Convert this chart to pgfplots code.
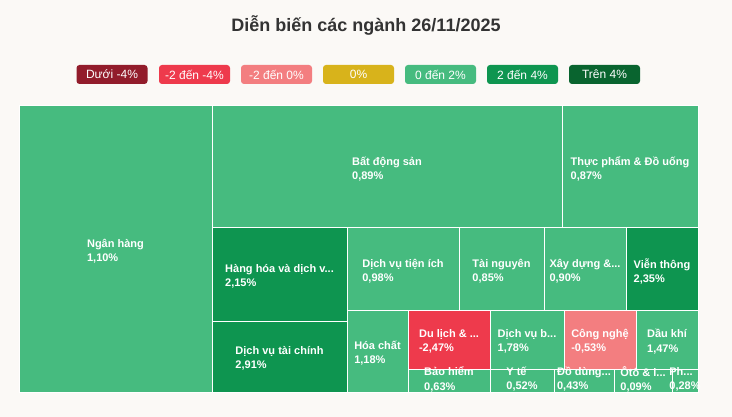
\documentclass[border=0pt]{standalone}
\usepackage{pgfplots}
\pgfplotsset{compat=1.18}
\usetikzlibrary{calc}
\usepackage{fontspec}
\setmainfont{Liberation Sans}
\definecolor{bg}{HTML}{FBF9F6}
\definecolor{cA}{HTML}{921C2B}
\definecolor{cB}{HTML}{EE3A4C}
\definecolor{cC}{HTML}{F37E80}
\definecolor{cD}{HTML}{D8B31B}
\definecolor{cE}{HTML}{46BB7F}
\definecolor{cF}{HTML}{0E9550}
\definecolor{cG}{HTML}{09642F}
\definecolor{ttl}{HTML}{333333}
\newcommand{\tile}[8][-1.6pt]{%
  \addplot[draw=white, line width=0.75pt, fill=#6] coordinates {(#2,#3) (#4,#3) (#4,#5) (#2,#5) (#2,#3)};
  \node[align=left, text=white, inner sep=0pt, yshift=#1, font=\bfseries\fontsize{8.25}{10.6}\selectfont]
    at ($(axis cs:#2,#3)!0.5!(axis cs:#4,#5)$) {#7\\#8};
}
\newcommand{\legbox}[3]{%
  \node[fill=#2, rounded corners=2.25pt, minimum width=53.25pt, minimum height=14.25pt, inner sep=0pt,
    text=white, font=\fontsize{9}{10}\selectfont] at (axis cs:#1,74.5) {#3};
}
\begin{document}
\begin{tikzpicture}
\begin{axis}[scale only axis, width=549pt, height=312.75pt,
  xmin=0, xmax=732, ymin=0, ymax=417, y dir=reverse, hide axis, clip=false]
\addplot[fill=bg, draw=none] coordinates {(0,0) (732,0) (732,417) (0,417) (0,0)};
\tile{19}{106}{212}{392}{cE}{Ngân hàng}{1,10\%}
\tile{212}{106}{562}{228}{cE}{Bất động sản}{0,89\%}
\tile{562}{106}{698}{228}{cE}{Thực phẩm \& Đồ uống}{0,87\%}
\tile{212}{228}{347}{321}{cF}{Hàng hóa và dịch v...}{2,15\%}
\tile{212}{321}{347}{392}{cF}{Dịch vụ tài chính}{2,91\%}
\tile{347}{228}{459}{310}{cE}{Dịch vụ tiện ích}{0,98\%}
\tile{459}{228}{544}{310}{cE}{Tài nguyên}{0,85\%}
\tile{544}{228}{626}{310}{cE}{Xây dựng \&...}{0,90\%}
\tile{626}{228}{698}{310}{cF}{Viễn thông}{2,35\%}
\tile{347}{310}{408}{392}{cE}{Hóa chất}{1,18\%}
\tile{408}{310}{490}{369}{cB}{Du lịch \& ...}{-2,47\%}
\tile[0.8pt]{408}{369}{490}{392}{cE}{Bảo hiểm}{0,63\%}
\tile{490}{310}{564}{369}{cE}{Dịch vụ b...}{1,78\%}
\tile{564}{310}{636}{369}{cC}{Công nghệ}{-0,53\%}
\tile{636}{310}{698}{369}{cE}{Dầu khí}{1,47\%}
\tile[0.8pt]{490}{369}{554}{392}{cE}{Y tế}{0,52\%}
\tile[0.8pt]{554}{369}{614}{392}{cE}{Đồ dùng...}{0,43\%}
\tile[0.8pt]{614}{369}{672}{392}{cE}{Ôtô \& l...}{0,09\%}
\tile[0.8pt]{672}{369}{698}{392}{cE}{Ph...}{0,28\%}
\node[text=ttl, font=\bfseries\fontsize{13.5}{15}\selectfont] at (axis cs:366,25) {Diễn biến các ngành 26/11/2025};
\legbox{112}{cA}{Dưới -4\%}
\legbox{194.5}{cB}{-2 đến -4\%}
\legbox{276.5}{cC}{-2 đến 0\%}
\legbox{358.5}{cD}{0\%}
\legbox{440.5}{cE}{0 đến 2\%}
\legbox{522.5}{cF}{2 đến 4\%}
\legbox{604.5}{cG}{Trên 4\%}
\end{axis}
\end{tikzpicture}
\end{document}
